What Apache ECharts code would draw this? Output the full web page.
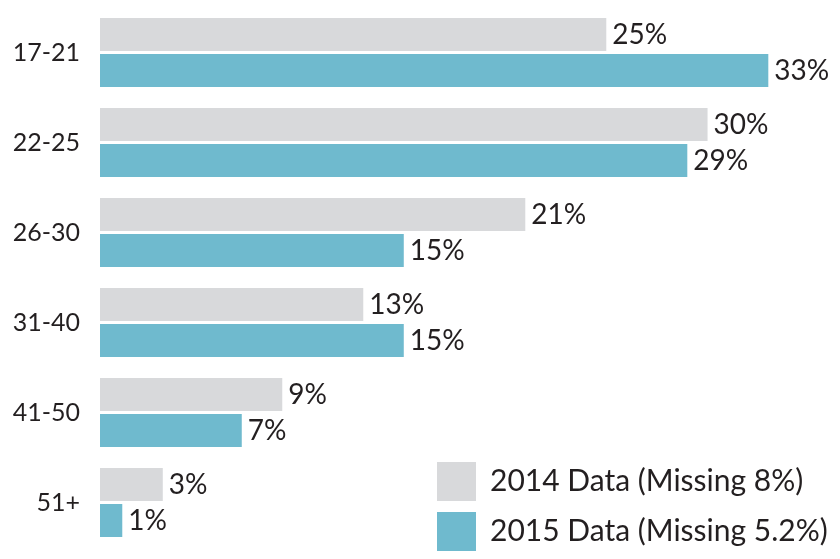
<!DOCTYPE html>
<html>
<head>
<meta charset="utf-8">
<script src="https://cdn.jsdelivr.net/npm/echarts@6/dist/echarts.min.js"></script>
<style>
  html, body { margin: 0; padding: 0; background: #fff; }
  #chart { width: 840px; height: 559px; }
</style>
</head>
<body>
<div id="chart"></div>
<script>
// age groups, top to bottom
const ageGroups = ['17-21', '22-25', '26-30', '31-40', '41-50', '51+'];
// share of each group
const data2014 = [25, 30, 21, 13, 9, 3.1];
const data2015 = [33, 29, 15, 15, 7, 1.1];
const legendNames = ['2014 Data (Missing 8%)', '2015 Data (Missing 5.2%)'];

const textColor = '#231f20';
const fontFamily = 'Lato, "Open Sans", sans-serif';

const chart = echarts.init(document.getElementById('chart'));

function barSeries(name, values, color) {
  return {
    name,
    type: 'bar',
    data: values,
    barWidth: 33,
    barGap: '9%',
    itemStyle: { color },
    label: {
      show: true,
      position: 'right',
      distance: 6,
      color: textColor,
      fontFamily,
      fontSize: 28,
      formatter: (p) => Math.round(p.value) + '%',
    },
  };
}

chart.setOption({
  animation: false,
  grid: { left: 100, top: 7.5, width: 740, height: 540 },
  xAxis: {
    type: 'value',
    min: 0,
    max: 36.54,
    show: false,
  },
  yAxis: {
    type: 'category',
    data: ageGroups,
    inverse: true,
    axisLine: { show: false },
    axisTick: { show: false },
    axisLabel: {
      color: textColor,
      fontFamily,
      fontSize: 25,
      margin: 20,
    },
  },
  legend: {
    orient: 'vertical',
    left: 437,
    top: 462,
    height: 95,
    padding: 0,
    itemWidth: 39,
    itemHeight: 39,
    itemGap: 11,
    itemStyle: { borderWidth: 0 },
    icon: 'rect',
    textStyle: { color: textColor, fontFamily, fontSize: 30, padding: [0, 0, 0, 9] },
    data: legendNames,
  },
  series: [
    barSeries(legendNames[0], data2014, '#d8d9db'),
    barSeries(legendNames[1], data2015, '#6fbace'),
  ],
});
</script>
</body>
</html>
